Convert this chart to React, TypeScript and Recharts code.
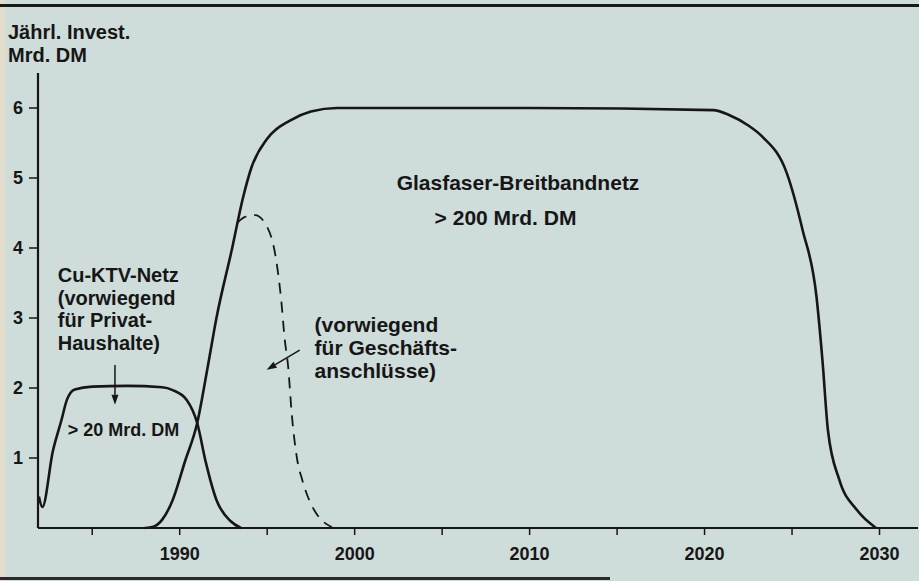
import React from "react";
import { LineChart, Line, XAxis, YAxis, ReferenceDot, ReferenceLine } from "recharts";

// Cu-KTV-Netz (Privat-Haushalte)
const cuYears = [1981.95, 1982.15, 1982.75, 1983.25, 1983.55, 1984.0, 1985.0, 1987.0, 1989.0, 1989.6, 1990.4, 1991.0, 1991.5, 1992.1, 1992.9, 1993.5];
const cuValues = [0.45, 0.3, 1.1, 1.55, 1.83, 1.98, 2.02, 2.03, 2.01, 1.97, 1.83, 1.5, 0.93, 0.4, 0.1, 0];

// Glasfaser-Breitbandnetz
const glasYears = [1988.0, 1988.6, 1989.0, 1989.6, 1990.3, 1991.0, 1991.6, 1992.1, 1993.0, 1993.6, 1994.1, 1995.0, 1996.3, 1997.5, 1999.0, 2010.0, 2020.5, 2021.4, 2022.5, 2023.3, 2024.7, 2025.6, 2026.4, 2026.75, 2027.05, 2027.7, 2028.7, 2029.8];
const glasValues = [0, 0.03, 0.12, 0.4, 0.95, 1.5, 2.3, 3.0, 4.0, 4.7, 5.15, 5.56, 5.82, 5.95, 6.0, 6.0, 5.97, 5.9, 5.75, 5.59, 5.07, 4.26, 3.3, 2.36, 1.4, 0.69, 0.26, 0];

// Geschäftsanschlüsse (gestrichelt)
const geschYears = [1993.3, 1993.7, 1994.3, 1995.0, 1995.5, 1995.8, 1996.0, 1996.2, 1996.4, 1996.7, 1997.0, 1997.4, 1997.8, 1998.7];
const geschValues = [4.36, 4.44, 4.47, 4.3, 3.85, 3.26, 2.7, 2.3, 1.64, 1.0, 0.69, 0.4, 0.21, 0.01];

const xTicks = [1985, 1990, 1995, 2000, 2005, 2010, 2015, 2020, 2025, 2030];
const yTicks = [1, 2, 3, 4, 5, 6];

const toPoints = (years: number[], values: number[]) =>
  years.map((year, i) => ({ year, value: values[i] }));

const cuData = toPoints(cuYears, cuValues);
const glasData = toPoints(glasYears, glasValues);
const geschData = toPoints(geschYears, geschValues);

const FONT = "'Liberation Sans', Arial, Helvetica, sans-serif";
const INK = "#161616";

const XTick = (props: any) => {
  const { x, y, payload } = props;
  if (payload.value % 10 !== 0) return <g />;
  return (
    <text x={x} y={y} dy={21} textAnchor="middle" fill={INK} fontSize={18} fontWeight="bold" fontFamily={FONT}>
      {payload.value}
    </text>
  );
};

const textBlock = (lines: string[], size = 20, lineHeight = 23) => (p: any) => (
  <text x={p.cx} y={p.cy} fill={INK} fontSize={size} fontWeight="bold" fontFamily={FONT}>
    {lines.map((l, i) => (
      <tspan key={i} x={p.cx} dy={i === 0 ? 0 : lineHeight}>
        {l}
      </tspan>
    ))}
  </text>
);

const arrowShape = (p: any) => {
  const { x1, y1, x2, y2 } = p;
  const a = Math.atan2(y2 - y1, x2 - x1);
  const len = 10;
  const w = 3.5;
  const bx = x2 - len * Math.cos(a);
  const by = y2 - len * Math.sin(a);
  const pts = `${x2},${y2} ${bx - w * Math.sin(a)},${by + w * Math.cos(a)} ${bx + w * Math.sin(a)},${by - w * Math.cos(a)}`;
  return (
    <g>
      <line x1={x1} y1={y1} x2={bx} y2={by} stroke={INK} strokeWidth={1.5} />
      <polygon points={pts} fill={INK} />
    </g>
  );
};

export default function App() {
  return (
    <div
      style={{
        position: "absolute",
        left: 0,
        top: 0,
        width: 919,
        height: 581,
        background: "#cedcda",
        overflow: "hidden",
        fontFamily: FONT,
      }}
    >
      <div style={{ position: "absolute", left: 0, top: 0, width: 5, height: 581, background: "#e4dccb" }} />
      <div style={{ position: "absolute", left: 0, top: 4, width: 919, height: 3, background: "#1a1a1a" }} />
      <div style={{ position: "absolute", left: 0, top: 577, width: 610, height: 3, background: "#2a2a2a" }} />
      <div
        style={{
          position: "absolute",
          left: 8,
          top: 21,
          fontSize: 20,
          fontWeight: "bold",
          lineHeight: "23px",
          color: INK,
        }}
      >
        Jährl. Invest.
        <br />
        Mrd. DM
      </div>
      <LineChart
        width={919}
        height={581}
        margin={{ top: 73, right: 1, bottom: 23, left: 8 }}
        style={{ position: "absolute", left: 0, top: 0 }}
      >
        <XAxis
          dataKey="year"
          type="number"
          domain={[1981.9, 2032.2]}
          allowDataOverflow
          ticks={xTicks}
          interval={0}
          height={30}
          tickSize={7}
          tickMargin={4}
          tick={<XTick />}
          axisLine={{ stroke: INK, strokeWidth: 2.2 }}
          tickLine={{ stroke: INK, strokeWidth: 1.5 }}
        />
        <YAxis
          type="number"
          domain={[0, 6.5]}
          ticks={yTicks}
          interval={0}
          width={30}
          tickSize={9}
          tickMargin={6}
          tick={{ fill: INK, fontSize: 18, fontWeight: "bold", fontFamily: FONT }}
          axisLine={{ stroke: INK, strokeWidth: 2.2 }}
          tickLine={{ stroke: INK, strokeWidth: 1.5 }}
        />
        <Line
          data={cuData}
          dataKey="value"
          type="monotone"
          stroke={INK}
          strokeWidth={2.6}
          dot={false}
          activeDot={false}
          isAnimationActive={false}
        />
        <Line
          data={glasData}
          dataKey="value"
          type="monotone"
          stroke={INK}
          strokeWidth={2.6}
          dot={false}
          activeDot={false}
          isAnimationActive={false}
        />
        <Line
          data={geschData}
          dataKey="value"
          type="monotone"
          stroke={INK}
          strokeWidth={1.8}
          strokeDasharray="11 8"
          dot={false}
          activeDot={false}
          isAnimationActive={false}
        />
        <ReferenceLine
          segment={[
            { x: 1986.3, y: 2.33 },
            { x: 1986.3, y: 1.76 },
          ]}
          shape={arrowShape}
        />
        <ReferenceLine
          segment={[
            { x: 1996.86, y: 2.54 },
            { x: 1994.97, y: 2.26 },
          ]}
          shape={arrowShape}
        />
        <ReferenceDot
          x={1983.03}
          y={3.51}
          r={0}
          shape={textBlock(["Cu-KTV-Netz", "(vorwiegend", "für Privat-", "Haushalte)"], 20, 22.5)}
        />
        <ReferenceDot x={1983.6} y={1.31} r={0} shape={textBlock(["> 20 Mrd. DM"], 18)} />
        <ReferenceDot
          x={1997.71}
          y={2.8}
          r={0}
          shape={textBlock(["(vorwiegend", "für Geschäfts-", "anschlüsse)"], 21, 23)}
        />
        <ReferenceDot x={2002.4} y={4.83} r={0} shape={textBlock(["Glasfaser-Breitbandnetz"], 21)} />
        <ReferenceDot x={2004.57} y={4.33} r={0} shape={textBlock(["> 200 Mrd. DM"], 21)} />
      </LineChart>
    </div>
  );
}
